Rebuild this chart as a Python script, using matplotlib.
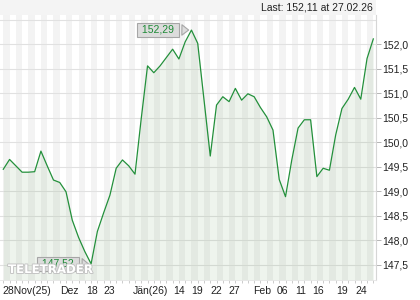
import matplotlib
matplotlib.use('Agg')
import matplotlib.pyplot as plt
import numpy as np
from matplotlib.patches import Rectangle
import matplotlib.patheffects as pe
from matplotlib import font_manager as fm

# ---- data -------------------------------------------------------------
values = [149.45, 149.65, 149.52, 149.39, 149.39, 149.40, 149.82, 149.52, 149.23, 149.18,
          148.99, 148.41, 148.06, 147.77, 147.52, 148.18, 148.56, 148.92, 149.47, 149.64,
          149.52, 149.35, 150.49, 151.56, 151.42, 151.56, 151.73, 151.90, 151.70, 152.05,
          152.29, 152.02, 150.87, 149.72, 150.76, 150.93, 150.83, 151.10, 150.86, 150.99,
          150.93, 150.71, 150.52, 150.25, 149.24, 148.89, 149.64, 150.29, 150.46, 150.46,
          149.30, 149.47, 149.43, 150.15, 150.69, 150.88, 151.12, 150.88, 151.71, 152.11]

xtick_labels = ['28Nov(25)', 'Dez', '18', '23', 'Jän(26)', '14', '19', '22', '27',
                'Feb', '06', '11', '16', '19', '24']
xtick_pos = [3.78, 10.56, 14.14, 16.94, 23.52, 28.05, 30.97, 33.95, 36.9,
             41.2, 44.57, 47.39, 50.23, 53.96, 57.15]
ytick_vals = [147.5, 148.0, 148.5, 149.0, 149.5, 150.0, 150.5, 151.0, 151.5, 152.0]
grid_vals = ytick_vals + [152.5]

max_label = '152,29'
min_label = '147,52'
last_text = 'Last: 152,11 at 27.02.26'
watermark = 'TELETRADER'

# ---- style -------------------------------------------------------------
FONT = 'Liberation Sans'
plt.rcParams['font.family'] = [FONT, 'DejaVu Sans']
FS = 7.5
LINE = '#23903b'
TXT = '#222222'

names = {f.name for f in fm.fontManager.ttflist}
wm_font = 'Liberation Sans Narrow' if 'Liberation Sans Narrow' in names else 'DejaVu Sans'

W, H = 420, 300
fig = plt.figure(figsize=(W / 100, H / 100), dpi=100)
fig.patch.set_facecolor('white')

left_px, right_px, top_px, bot_px = 0, 375.7, 15, 279.5
ax = fig.add_axes([left_px / W, 1 - bot_px / H, (right_px - left_px) / W, (bot_px - top_px) / H])
ax.set_facecolor('white')

# top band
fig.patches.append(Rectangle((0, 1 - top_px / H), 376 / W, top_px / H,
                             transform=fig.transFigure, facecolor='#f4f4f4',
                             edgecolor='none', zorder=0))

x = np.arange(len(values))
ax.set_xlim(-0.526, 59.38)
ax.set_ylim(147.20, 152.598)

# alternating stripes
for i in range(0, len(values) - 1, 2):
    ax.axvspan(i, i + 1, color='#f3f3f3', lw=0, zorder=0)

# horizontal grid
for gv in grid_vals:
    ax.axhline(gv, color='#e1e1e1', lw=0.8, zorder=1)

ax.fill_between(x, values, 147.0, color='#5f9a55', alpha=0.10, lw=0, zorder=2)
ax.plot(x, values, color=LINE, lw=0.9, zorder=3)

# spines
for s in ['left', 'top']:
    ax.spines[s].set_visible(False)
ax.spines['right'].set_color('#d6d6d6')
ax.spines['right'].set_linewidth(0.8)
ax.spines['bottom'].set_color('#e6e6e6')
ax.spines['bottom'].set_linewidth(0.6)

# y axis on the right
ax.yaxis.tick_right()
ax.set_yticks(ytick_vals)
ax.set_yticklabels([f'{v:.1f}'.replace('.', ',') for v in ytick_vals])
ax.tick_params(axis='y', length=3.6, width=0.7, color='#b5b5b5', pad=1.2,
               labelsize=FS, labelcolor=TXT)

# x axis
ax.set_xticks(xtick_pos)
ax.set_xticklabels(xtick_labels)
ax.set_xticks(x, minor=True)
ax.tick_params(axis='x', which='major', length=0, pad=4.5, labelsize=FS, labelcolor=TXT)
ax.tick_params(axis='x', which='minor', length=2.3, width=0.6, color='#c4c4c4')

# annotations
box = dict(boxstyle='square,pad=0.2', fc='#dcdcdc', ec='#a6a6a6', lw=0.8)
arrow = dict(arrowstyle='wedge,tail_width=1.0,shrink_factor=0.5', fc='#dcdcdc',
             ec='#a6a6a6', lw=0.8)
imax = int(np.argmax(values))
imin = int(np.argmin(values))
ax.annotate(' ' + max_label + ' ', xy=(imax, values[imax]), xytext=(-24.3, 0.3),
            textcoords='offset points', ha='center', va='center', fontsize=FS,
            color='#1d8a36', bbox=box, arrowprops=arrow, zorder=6)

fig.text(8 / W, 1 - 269.5 / H, watermark, fontsize=8.5, family=wm_font, weight='bold',
         color='white', ha='left', va='center', zorder=5,
         path_effects=[pe.withStroke(linewidth=1.3, foreground='#c2c2c2')])

ax.annotate(' ' + min_label + ' ', xy=(imin, values[imin]), xytext=(-23.8, 0),
            textcoords='offset points', ha='center', va='center', fontsize=FS,
            color='#1d8a36', bbox=box, arrowprops=arrow, zorder=4)

fig.text(373 / W, 1 - 7.5 / H, last_text, fontsize=FS, color=TXT, ha='right', va='center')

fig.savefig('out.png', dpi=100, facecolor='white')
